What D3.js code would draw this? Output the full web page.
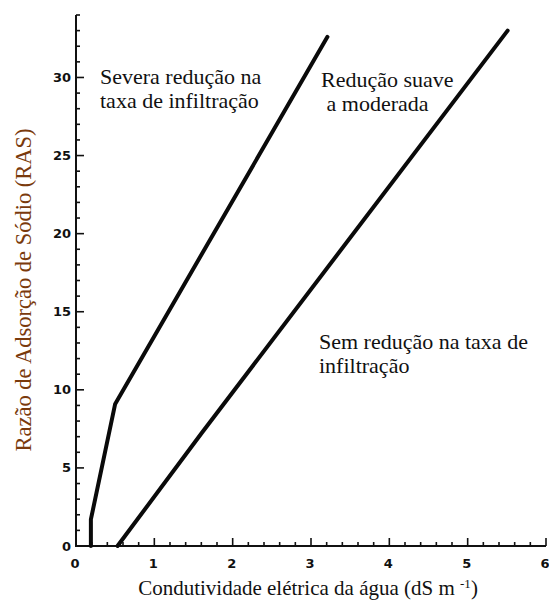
<!DOCTYPE html>
<html>
<head>
<meta charset="utf-8">
<script src="https://cdn.jsdelivr.net/npm/d3@7/dist/d3.min.js"></script>
<style>
  html, body { margin: 0; padding: 0; background: #fff; }
  svg { display: block; }
</style>
</head>
<body>
<svg id="chart" width="549" height="601"></svg>
<script>
// Boundary lines between infiltration-reduction zones (EC of water vs SAR)
const severeBoundary = [
  { ec: 0.19, ras: 0 },
  { ec: 0.19, ras: 1.7 },
  { ec: 0.50, ras: 9.1 },
  { ec: 3.21, ras: 32.6 }
];
const moderateBoundary = [
  { ec: 0.53, ras: 0 },
  { ec: 1.60, ras: 7.2 },
  { ec: 5.51, ras: 33.0 }
];

const xTickLabels = [0, 1, 2, 3, 4, 5, 6];
const yTickLabels = [0, 5, 10, 15, 20, 25, 30];

const zoneLabels = [
  { lines: ["Severa redução na", "taxa de infiltração"], x: 100, y: 84 },
  { lines: ["Redução suave", " a moderada"], x: 321, y: 87 },
  { lines: ["Sem redução na taxa de", "infiltração"], x: 319, y: 349 }
];

const SERIF = "'Liberation Serif', 'Times New Roman', 'DejaVu Serif', serif";
const SANS = "'DejaVu Sans', 'Liberation Sans', sans-serif";

const svg = d3.select("#chart");

const x = d3.scaleLinear().domain([0, 6]).range([76, 546]);
const y = d3.scaleLinear().domain([0, 34]).range([546, 15]);

function tickText(sel) {
  sel.style("font-family", SANS)
    .style("font-weight", "bold")
    .style("font-size", "13px")
    .style("fill", "#111");
}
function serifText(sel, size) {
  sel.style("font-family", SERIF)
    .style("font-size", size + "px")
    .style("fill", "#111");
}

// Y axis: minor tick every unit, major every 5
const yAxisG = svg.append("g");
yAxisG.append("line")
  .attr("x1", x(0)).attr("x2", x(0))
  .attr("y1", y(0)).attr("y2", y(34))
  .attr("stroke", "#111").attr("stroke-width", 2);
yAxisG.selectAll("line.ytick").data(d3.range(0, 35)).join("line")
  .attr("class", "ytick")
  .attr("x1", x(0)).attr("x2", d => x(0) + (d % 5 === 0 ? 8 : 4))
  .attr("y1", d => y(d)).attr("y2", d => y(d))
  .attr("stroke", "#111").attr("stroke-width", 1.6);
yAxisG.selectAll("text").data(yTickLabels).join("text")
  .call(tickText)
  .attr("x", x(0) - 5).attr("y", d => y(d))
  .attr("text-anchor", "end").attr("dominant-baseline", "central")
  .text(d => d);

// X axis: minor tick every 0.2, major at integers
const xAxisG = svg.append("g");
xAxisG.append("line")
  .attr("x1", x(0) - 1).attr("x2", x(6))
  .attr("y1", y(0)).attr("y2", y(0))
  .attr("stroke", "#111").attr("stroke-width", 2);
xAxisG.selectAll("line.xtick").data(d3.range(0, 31)).join("line")
  .attr("class", "xtick")
  .attr("x1", d => x(d / 5)).attr("x2", d => x(d / 5))
  .attr("y1", y(0)).attr("y2", d => y(0) - (d % 5 === 0 ? 8 : 4))
  .attr("stroke", "#111").attr("stroke-width", 1.6);
xAxisG.selectAll("text").data(xTickLabels).join("text")
  .call(tickText)
  .attr("x", d => x(d) - 1).attr("y", y(0) + 17)
  .attr("text-anchor", "middle").attr("dominant-baseline", "central")
  .text(d => d);

// Boundary curves
const line = d3.line().x(d => x(d.ec)).y(d => y(d.ras));
[severeBoundary, moderateBoundary].forEach(data => {
  svg.append("path")
    .datum(data)
    .attr("d", line)
    .attr("fill", "none")
    .attr("stroke", "#0a0a0a")
    .attr("stroke-width", 4)
    .attr("stroke-linejoin", "round")
    .attr("stroke-linecap", "round");
});

// Zone annotations
zoneLabels.forEach(z => {
  const t = svg.append("text").call(serifText, 22)
    .attr("x", z.x).attr("y", z.y).style("white-space", "pre");
  z.lines.forEach((s, i) => {
    t.append("tspan").attr("x", z.x).attr("dy", i === 0 ? 0 : 24).text(s);
  });
});

// Axis titles
const xTitle = svg.append("text").call(serifText, 21)
  .attr("x", 308).attr("y", 595).attr("text-anchor", "middle");
xTitle.append("tspan").text("Condutividade elétrica da água (dS m ");
xTitle.append("tspan").style("font-size", "13px").attr("dy", -7).text("-1");
xTitle.append("tspan").attr("dy", 7).text(")");

svg.append("text").call(serifText, 22.5)
  .attr("transform", "translate(31,290) rotate(-90)")
  .attr("text-anchor", "middle")
  .style("fill", "#7a3a0c")
  .text("Razão de Adsorção de Sódio (RAS)");
</script>
</body>
</html>
